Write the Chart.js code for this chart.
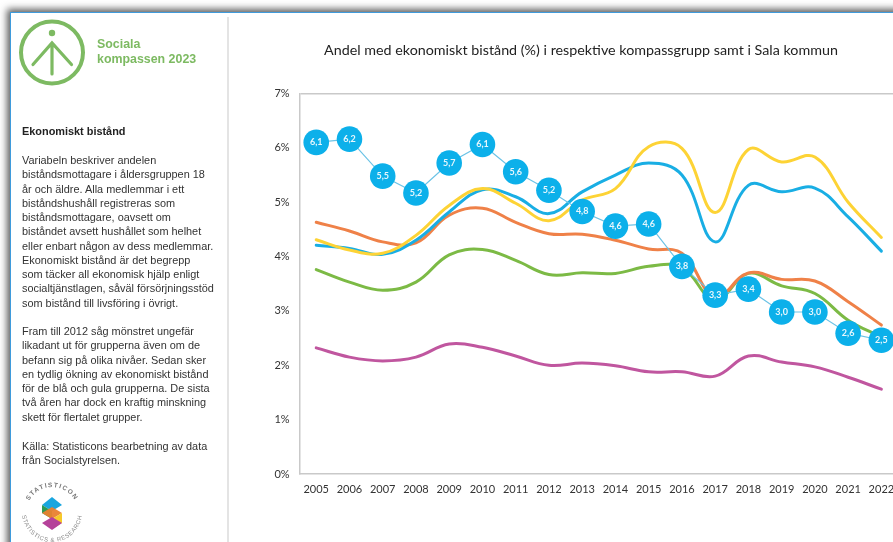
<!DOCTYPE html>
<html lang="sv"><head><meta charset="utf-8">
<script src="https://cdn.jsdelivr.net/npm/chart.js@4"></script>
<style>
html,body{margin:0;padding:0;width:893px;height:542px;overflow:hidden;background:#fff}
#frame{position:absolute;left:10px;top:12px;width:1000px;height:800px;border:1.5px solid #3f9bdc;box-shadow:0 0 7px 3px rgba(40,40,40,.75);background:#fff}
#divider{position:absolute;left:227px;top:17px;width:2px;height:525px;background:#e4e4e4}
#panel{position:absolute;left:0;top:0;width:228px;height:542px;filter:blur(.35px);color:#333;font:10.9px/14.25px "Liberation Sans",Arial,sans-serif}
.t{position:absolute;left:22px;white-space:pre}
#brand{position:absolute;left:97px;top:37px;color:#7dba62;font:bold 12.4px/14.5px "Liberation Sans",Arial,sans-serif;white-space:pre}
canvas{position:absolute;left:264px;top:20px;filter:blur(.35px)}
</style></head><body>
<div id="frame"></div><div id="divider"></div>
<div id="panel">
<svg style="position:absolute;left:0;top:0" width="228" height="120">
<g fill="none" stroke="#7dba62" stroke-linecap="round"><circle cx="52" cy="52.500" r="31" stroke-width="4"/><path d="M52 43V74M33 64.500L52 43L71.500 64.500" stroke-width="3.200"/></g><circle cx="52" cy="33" r="3.200" fill="#7dba62"/></svg>
<div id="brand">Sociala
kompassen 2023</div>
<div class="t" style="top:124px;font-weight:bold;color:#222">Ekonomiskt bistånd</div>
<div class="t" style="top:153px">Variabeln beskriver andelen
biståndsmottagare i åldersgruppen 18
år och äldre. Alla medlemmar i ett
biståndshushåll registreras som
biståndsmottagare, oavsett om
biståndet avsett hushållet som helhet
eller enbart någon av dess medlemmar.
Ekonomiskt bistånd är det begrepp
som täcker all ekonomisk hjälp enligt
socialtjänstlagen, såväl försörjningsstöd
som bistånd till livsföring i övrigt.</div>
<div class="t" style="top:324px">Fram till 2012 såg mönstret ungefär
likadant ut för grupperna även om de
befann sig på olika nivåer. Sedan sker
en tydlig ökning av ekonomiskt bistånd
för de blå och gula grupperna. De sista
två åren har dock en kraftig minskning
skett för flertalet grupper.</div>
<div class="t" style="top:439px">Källa: Statisticons bearbetning av data
från Socialstyrelsen.</div>
<svg style="position:absolute;left:18px;top:482px" width="70" height="60" viewBox="0 0 70 60">
<defs><path id="arcTop" d="M8 31A26 26 0 0 1 60 31"/><path id="arcBot" d="M4 30A30 30 0 0 0 64 30"/></defs>
<text font-family="Liberation Sans" font-size="6.500" font-weight="bold" fill="#777" letter-spacing="1.200" text-anchor="middle"><textPath href="#arcTop" startOffset="50%">STATISTICON</textPath></text>
<text font-family="Liberation Sans" font-size="6" fill="#8a8a8a" letter-spacing=".6" text-anchor="middle"><textPath href="#arcBot" startOffset="50%">STATISTICS &amp; RESEARCH</textPath></text>
<polygon points="24,23 34,15 44,23 34,29" fill="#19a6df"/><polygon points="24,23 34,29 34,37 24,31" fill="#2c9a55"/>
<polygon points="24,31 34,37 44,31 34,25" fill="#e9812f" opacity=".95"/><polygon points="34,37 44,31 44,41 34,47" fill="#f7c928"/><polygon points="24,41 34,35 44,41 34,48" fill="#b5429a"/></svg>
</div>
<canvas id="c" width="634" height="522"></canvas>
<script>
const years=["2005","2006","2007","2008","2009","2010","2011","2012","2013","2014","2015","2016","2017","2018","2019","2020","2021","2022"];
const titleText="Andel med ekonomiskt bistånd (%) i respektive kompassgrupp samt i Sala kommun";
const purple=[2.32,2.15,2.08,2.15,2.39,2.33,2.17,2.00,2.04,1.99,1.88,1.88,1.80,2.17,2.06,1.97,1.78,1.56];
const green=[3.76,3.53,3.38,3.53,4.03,4.13,3.93,3.67,3.70,3.69,3.82,3.80,3.20,3.69,3.46,3.32,2.83,2.52];
const orange=[4.63,4.47,4.27,4.25,4.76,4.89,4.63,4.42,4.41,4.30,4.14,4.06,3.26,3.70,3.58,3.55,3.17,2.74];
const blue=[4.21,4.15,4.04,4.30,4.82,5.23,5.10,4.79,5.19,5.50,5.72,5.50,4.27,5.31,5.19,5.26,4.73,4.10];
const yellow=[4.31,4.12,4.06,4.39,4.94,5.25,4.98,4.66,5.04,5.25,6.02,5.99,4.81,5.97,5.74,5.83,5.00,4.35];
const sala=[6.10,6.16,5.48,5.17,5.72,6.06,5.56,5.22,4.83,4.56,4.60,3.82,3.29,3.40,2.98,2.98,2.59,2.46];
const line=(data,color,order)=>({data,order,borderColor:color,borderWidth:3,tension:.4,pointRadius:0,fill:false,borderCapStyle:'round'});
const labelPlugin={id:'salaLabels',afterDatasetsDraw(chart){
  const meta=chart.getDatasetMeta(5),ctx=chart.ctx;
  ctx.save();ctx.fillStyle='#e8f7fd';ctx.font='bold 9px Lato';ctx.textAlign='center';ctx.textBaseline='middle';
  meta.data.forEach((p,i)=>ctx.fillText(sala[i].toFixed(1).replace('.',','),p.x,p.y));
  ctx.restore();}};
new Chart(document.getElementById('c'),{type:'line',
 data:{labels:years,datasets:[line(purple,'#c0569f',5),line(green,'#7cba45',4),line(orange,'#ef8148',3),line(blue,'#19aee4',2),line(yellow,'#fdd335',1),
  {data:sala,order:0,borderColor:'#6cc3e6',borderWidth:1.2,tension:0,pointRadius:12.8,pointBackgroundColor:'#0cb0ea',pointBorderColor:'#0cb0ea',pointBorderWidth:0,fill:false}]},
 plugins:[labelPlugin],
 options:{responsive:false,animation:false,events:[],
  layout:{autoPadding:false,padding:0},
  plugins:{legend:{display:false},tooltip:{enabled:false},
   title:{display:true,text:titleText,color:'#222',font:{family:'Lato',size:14.300,weight:'normal',lineHeight:1.2},padding:{top:22,bottom:34.300}}},
  scales:{
   x:{offset:true,grid:{display:false,drawTicks:false},border:{color:'#c9c9c9',width:1.500},
      afterFit(s){s.height=68;s.paddingLeft=0;s.paddingRight=0},
      ticks:{color:'#333',font:{family:'Lato',size:11},maxRotation:0,autoSkip:false,padding:9}},
   y:{min:0,max:7,grid:{display:true,drawOnChartArea:true,color:c=>c.tick.value===7?'#c9c9c9':'transparent',lineWidth:1.500,drawTicks:false},border:{color:'#c9c9c9',width:1.500},
      afterFit(s){s.width=35.600},
      ticks:{stepSize:1,color:'#333',font:{family:'Lato',size:11},padding:10,callback:v=>v+'%'}}
  }}});
</script>
</body></html>
